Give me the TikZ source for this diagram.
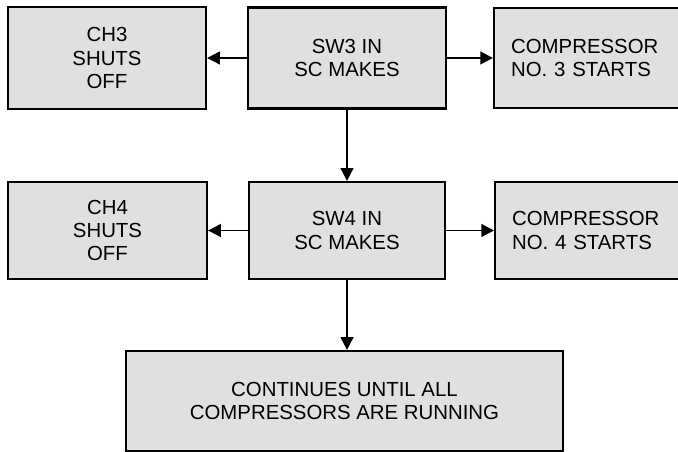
\documentclass[tikz,border=0pt]{standalone}
\usepackage{fontspec}
\setsansfont{Liberation Sans}
\usepackage{xcolor}
\usepackage{tikz}
\usetikzlibrary{positioning,arrows.meta}
\definecolor{stipple}{RGB}{224,224,224}

\begin{document}
\begin{tikzpicture}[font=\sffamily\fontsize{14.5}{16.5}\selectfont,
  box/.style={draw=black,line width=1.6pt,fill=stipple,align=center,inner sep=0pt},
  openbox/.style={box,anchor=west,align=left,text width=5cm,inner xsep=0.425cm},
  link/.style={line width=1.4pt,-{Triangle[length=9pt,width=9pt]}}]
 \clip (0,0) rectangle (16.95,11.3);
 \node[box,minimum width=4.95cm,minimum height=2.55cm] (ch3) at (2.675,9.85) {CH3\\SHUTS\\OFF};
 \node[box,minimum width=4.95cm,minimum height=2.525cm] (sw3) at (8.675,9.85) {SW3 IN\\SC MAKES};
 \node[openbox,minimum height=2.5cm] (comp3) at (12.325,9.85) {COMPRESSOR\\NO. 3 STARTS};
 \node[box,minimum width=4.975cm,minimum height=2.425cm] (ch4) at (2.6875,5.5375) {CH4\\SHUTS\\OFF};
 \node[box,minimum width=4.9cm,minimum height=2.425cm] (sw4) at (8.675,5.5375) {SW4 IN\\SC MAKES};
 \node[openbox,minimum height=2.425cm] (comp4) at (12.35,5.5375) {COMPRESSOR\\NO. 4 STARTS};
 \node[box,minimum width=10.925cm,minimum height=2.5cm] (all) at (8.6125,1.275) {CONTINUES UNTIL ALL\\COMPRESSORS ARE RUNNING};
 \draw[link] (sw3) -- (ch3);
 \draw[link] (sw3) -- (comp3.west);
 \draw[link] (sw3) -- (sw4);
 \draw[link] (sw4) -- (ch4);
 \draw[link] (sw4) -- (comp4.west);
 \draw[link] (sw4.south) -- (sw4.south |- all.north);
\end{tikzpicture}
\end{document}
